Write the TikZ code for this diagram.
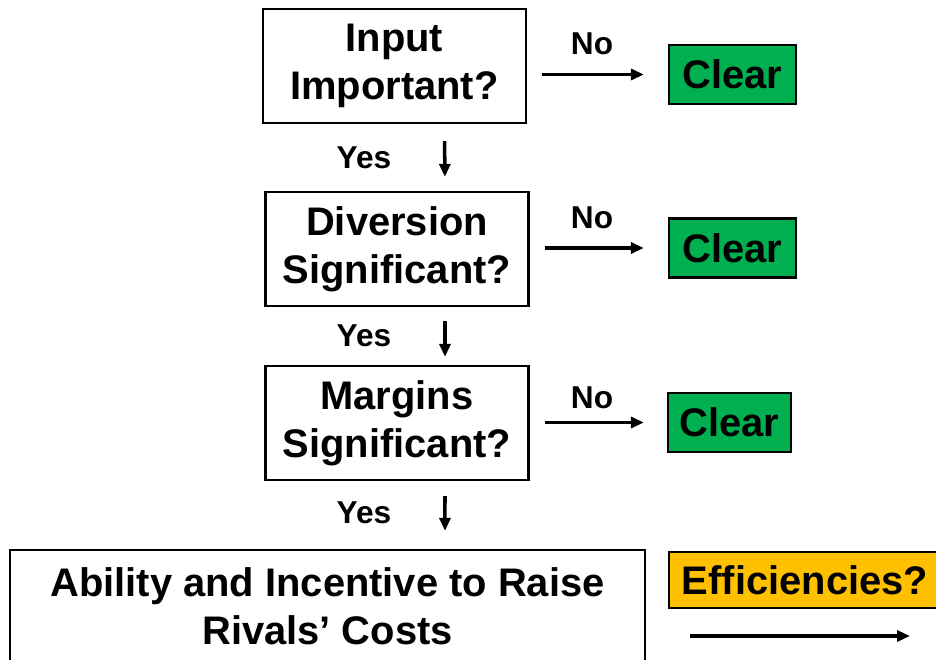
\documentclass[tikz,border=0pt]{standalone}
\usepackage{fontspec}
\setmainfont{Liberation Sans}
\usetikzlibrary{arrows.meta}
\definecolor{cleargreen}{HTML}{00B050}
\definecolor{effamber}{HTML}{FFC000}
\tikzset{
  qbox/.style={draw, line width=1.3pt, minimum width=5.26cm, minimum height=2.28cm,
    align=center, font=\fontsize{22.7}{27.5}\selectfont\bfseries},
  clearbox/.style={draw, line width=1.3pt, fill=cleargreen, minimum width=2.54cm,
    minimum height=1.18cm, inner sep=0pt, font=\fontsize{22.7}{27.5}\selectfont\bfseries},
  effbox/.style={draw, line width=1.3pt, fill=effamber, minimum width=5.44cm,
    minimum height=1.12cm, inner sep=0pt, font=\fontsize{22.7}{27.5}\selectfont\bfseries},
  lbl/.style={font=\fontsize{18}{21}\selectfont\bfseries},
  flow/.style={-{Triangle[length=0.26cm,width=0.22cm]}, line width=2pt},
}
\begin{document}
\begin{tikzpicture}[x=0.02cm, y=-0.02cm]
  \clip (0,0) rectangle (936,659);

  \node[qbox] (input) at (394.5,66) {Input\\Important?};
  \node[qbox] (diversion) at (397,249) {Diversion\\Significant?};
  \node[qbox] (margins) at (397,423) {Margins\\Significant?};
  \node[qbox, minimum width=12.7cm, minimum height=2.24cm] (raise) at (327.5,606)
    {Ability and Incentive to Raise\\Rivals’ Costs};

  \node[clearbox] (clear1) at (732.5,74.5) {Clear};
  \node[clearbox] (clear2) at (732.5,248) {Clear};
  \node[clearbox, minimum width=2.46cm] (clear3) at (729.5,422.5) {Clear};
  \node[effbox] (eff) at (805,580) {Efficiencies?};

  \node[lbl] (no1) at (592,44) {No};
  \node[lbl] (no2) at (592,218) {No};
  \node[lbl] (no3) at (592,398) {No};
  \node[lbl] (yes1) at (364,158) {Yes};
  \node[lbl] (yes2) at (364,336) {Yes};
  \node[lbl] (yes3) at (364,513) {Yes};

  \coordinate (effA) at (690,636);
  \coordinate (effB) at (910,636);

  \draw[flow, shorten <=0.3cm, shorten >=0.48cm] (input.east |- clear1.west) -- (clear1.west);
  \draw[flow, shorten <=0.3cm, shorten >=0.48cm] (diversion.east |- clear2.west) -- (clear2.west);
  \draw[flow, shorten <=0.3cm, shorten >=0.46cm] (margins.east |- clear3.west) -- (clear3.west);

  \draw[flow, shorten <=0.34cm, shorten >=0.28cm] ([xshift=1cm]input.south) -- ([xshift=0.96cm]diversion.north);
  \draw[flow, shorten <=0.28cm, shorten >=0.16cm] ([xshift=0.96cm]diversion.south) -- ([xshift=0.96cm]margins.north);
  \draw[flow, shorten <=0.3cm, shorten >=0.36cm] ([xshift=0.96cm]margins.south) -- ([xshift=2.35cm]raise.north);
  \draw[flow] (effA) -- (effB);
\end{tikzpicture}
\end{document}
